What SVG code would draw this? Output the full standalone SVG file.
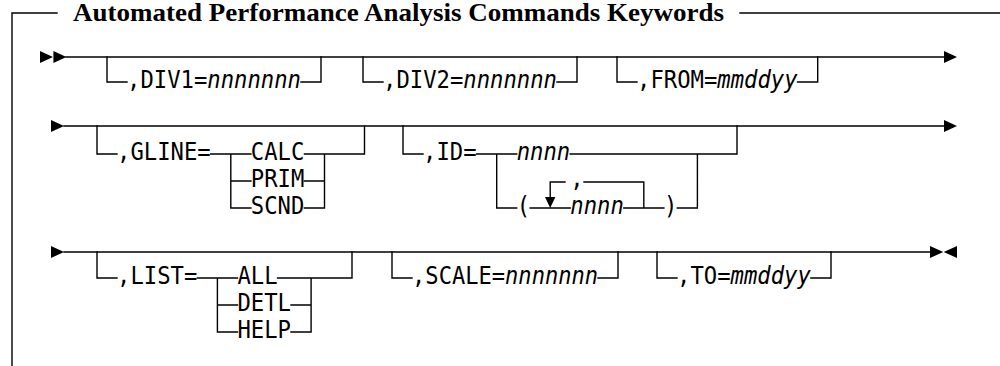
<svg xmlns="http://www.w3.org/2000/svg" width="1000" height="366" viewBox="0 0 1000 366">
<style>
.ln{fill:none;stroke:#000;stroke-width:1.4;stroke-linejoin:miter;stroke-linecap:square}
.ah{fill:#000;stroke:none}
.t{font-family:"DejaVu Sans Mono","Liberation Mono",monospace;font-size:24px;fill:#000}
.i{font-style:italic}
.title{font-family:"Liberation Serif","Times New Roman",serif;font-weight:bold;font-size:25px;fill:#000}
</style>
<rect width="1000" height="366" fill="#fff"/>
<g id="frame">
<path class="ln" d="M12,366 V13 H57 M740,13 H1000"/>
<text class="title" x="73" y="21" textLength="651" lengthAdjust="spacingAndGlyphs">Automated Performance Analysis Commands Keywords</text>
</g>
<g id="connectors">
<path class="ah" d="M40,51 L53,57 L40,63 Z M53.4,51 L66.4,57 L53.4,63 Z"/>
<path class="ln" d="M66,57 H946"/>
<path class="ah" d="M944,51 L957,57 L944,63 Z"/>
<path class="ah" d="M51,120 L64,126 L51,132 Z"/>
<path class="ln" d="M64,126 H946"/>
<path class="ah" d="M944,120 L957,126 L944,132 Z"/>
<path class="ah" d="M51,246 L64,252 L51,258 Z"/>
<path class="ln" d="M64,252 H931"/>
<path class="ah" d="M930,246 L943.3,252 L930,258 Z M957,246 L943.7,252 L957,258 Z"/>
</g>
<g id="div1">
<path class="ln" d="M107,57 V82 H127 M301,82 H321 V57"/>
<text class="t" x="127.07" y="88" textLength="173.94" lengthAdjust="spacingAndGlyphs">,DIV1=<tspan class="i">nnnnnnn</tspan></text>
</g>
<g id="div2">
<path class="ln" d="M363,57 V82 H383 M557,82 H577 V57"/>
<text class="t" x="383.07" y="88" textLength="173.94" lengthAdjust="spacingAndGlyphs">,DIV2=<tspan class="i">nnnnnnn</tspan></text>
</g>
<g id="from">
<path class="ln" d="M617,57 V82 H637 M797.6,82 H817.7 V57"/>
<text class="t" x="637.07" y="88" textLength="160.56" lengthAdjust="spacingAndGlyphs">,FROM=<tspan class="i">mmddyy</tspan></text>
</g>
<g id="gline">
<path class="ln" d="M97,126 V154 H117 M210.7,154 H250.9 M304.4,154 H364.5 V126 M230.8,154 V208 H250.9 M230.8,181 H250.9 M304.4,181 H324.5 M304.4,208 H324.5 V154"/>
<text class="t" x="117.07" y="160" textLength="93.66" lengthAdjust="spacingAndGlyphs">,GLINE=</text>
<text class="t" x="250.87" y="160" textLength="53.52" lengthAdjust="spacingAndGlyphs">CALC</text>
<text class="t" x="250.87" y="187" textLength="53.52" lengthAdjust="spacingAndGlyphs">PRIM</text>
<text class="t" x="250.87" y="214" textLength="53.52" lengthAdjust="spacingAndGlyphs">SCND</text>
</g>
<g id="id">
<path class="ln" d="M403,126 V154 H423 M476.6,154 H516.7 M570.2,154 H737 V126 M496.7,154 V208 H516.7 M530.1,208 H570.2 M623.8,208 H663.9 M677.3,208 H697.4 V154 M550.2,197 V182 H565 M584,182 H643.8 V208"/>
<path class="ah" d="M545,197 L555.4,197 L550.2,208 Z"/>
<text class="t" x="423.07" y="160" textLength="53.52" lengthAdjust="spacingAndGlyphs">,ID=</text>
<text class="t i" x="516.73" y="160" textLength="53.52" lengthAdjust="spacingAndGlyphs">nnnn</text>
<text class="t" x="516.73" y="214" textLength="13.38" lengthAdjust="spacingAndGlyphs">(</text>
<text class="t i" x="570.25" y="214" textLength="53.52" lengthAdjust="spacingAndGlyphs">nnnn</text>
<text class="t" x="663.91" y="214" textLength="13.38" lengthAdjust="spacingAndGlyphs">)</text>
<text class="t" x="570.25" y="187" textLength="13.38" lengthAdjust="spacingAndGlyphs">,</text>
</g>
<g id="list">
<path class="ln" d="M97,252 V278 H117 M197.4,278 H237.5 M277.6,278 H352 V252 M217.4,278 V332 H237.5 M217.4,305 H237.5 M291,305 H311.1 M291,332 H311.1 V278"/>
<text class="t" x="117.07" y="284" textLength="80.28" lengthAdjust="spacingAndGlyphs">,LIST=</text>
<text class="t" x="237.49" y="284" textLength="40.14" lengthAdjust="spacingAndGlyphs">ALL</text>
<text class="t" x="237.49" y="311" textLength="53.52" lengthAdjust="spacingAndGlyphs">DETL</text>
<text class="t" x="237.49" y="338" textLength="53.52" lengthAdjust="spacingAndGlyphs">HELP</text>
</g>
<g id="scale">
<path class="ln" d="M392,252 V278 H412 M598,278 H618 V252"/>
<text class="t" x="412.07" y="284" textLength="186" lengthAdjust="spacingAndGlyphs">,SCALE=<tspan class="i">nnnnnnn</tspan></text>
</g>
<g id="to">
<path class="ln" d="M657,252 V278 H677 M810.9,278 H831 V252"/>
<text class="t" x="677.07" y="284" textLength="133.8" lengthAdjust="spacingAndGlyphs">,TO=<tspan class="i">mmddyy</tspan></text>
</g>
</svg>
